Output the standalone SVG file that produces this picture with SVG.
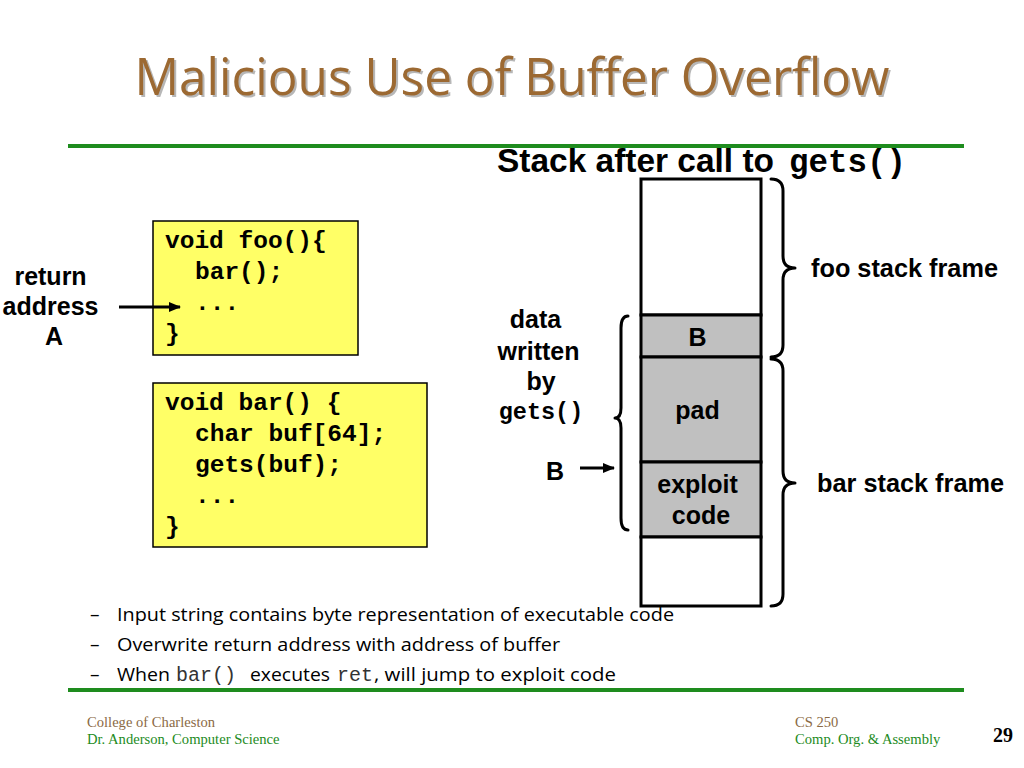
<svg xmlns="http://www.w3.org/2000/svg" width="1024" height="768" viewBox="0 0 1024 768">
<defs>
<style>
.bold{font-family:"Liberation Sans",Arial,sans-serif;font-weight:bold;fill:#000}
.mono{font-family:"Liberation Mono","Courier New",monospace;font-weight:bold;fill:#000}
.monor{font-family:"Liberation Mono","Courier New",monospace;fill:#333}
.code{fill:#FFFF66;stroke:#000;stroke-width:1.5}
.cell{stroke:#000;stroke-width:3}
.brace{fill:none;stroke:#000;stroke-width:3;stroke-linecap:round;stroke-linejoin:round}
.rule{stroke:#1E8C1E;stroke-width:4}
.body{font-family:"Open Sans","Noto Sans",sans-serif;font-size:19px;fill:#000}
.foot{font-family:"Liberation Serif","Times New Roman",serif;font-size:14.6px}
.arrow{stroke:#000;stroke-width:3;fill:none}
</style>
<marker id="ah" markerWidth="12" markerHeight="10" refX="11" refY="5" orient="auto" markerUnits="userSpaceOnUse">
<path d="M0,0 L12,5 L0,10 Z" fill="#000"/>
</marker>
</defs>
<rect width="1024" height="768" fill="#fff"/>

<g id="title">
<text x="514" y="97" text-anchor="middle" font-family="'Open Sans','Noto Sans',sans-serif" font-size="52" fill="#9a9a9a" opacity="0.7" textLength="755" lengthAdjust="spacingAndGlyphs">Malicious Use of Buffer Overflow</text>
<text x="512" y="95" text-anchor="middle" font-family="'Open Sans','Noto Sans',sans-serif" font-size="52" fill="#9C6932" textLength="755" lengthAdjust="spacingAndGlyphs">Malicious Use of Buffer Overflow</text>
</g>

<g id="rules">
<line class="rule" x1="68" y1="146" x2="964" y2="146"/>
<line class="rule" x1="68" y1="690" x2="964" y2="690"/>
</g>

<g id="stack-header">
<text x="497" y="172" class="bold" font-size="33" textLength="277" lengthAdjust="spacingAndGlyphs">Stack after call to</text>
<text x="789" y="172" class="mono" font-size="32.5">gets()</text>
</g>

<g id="foo-code">
<rect class="code" x="153" y="221" width="205" height="134"/>
<text class="mono" font-size="24.5">
<tspan x="165" y="248">void foo(){</tspan>
<tspan x="195" y="279">bar();</tspan>
<tspan x="195" y="310">...</tspan>
<tspan x="165" y="341">}</tspan>
</text>
</g>

<g id="bar-code">
<rect class="code" x="153" y="383" width="274" height="164"/>
<text class="mono" font-size="24.5">
<tspan x="165" y="410">void bar() {</tspan>
<tspan x="195" y="441">char buf[64];</tspan>
<tspan x="195" y="472">gets(buf);</tspan>
<tspan x="195" y="503">...</tspan>
<tspan x="165" y="534">}</tspan>
</text>
</g>

<g id="return-address-label">
<text class="bold" font-size="25" text-anchor="middle">
<tspan x="54" y="285">return</tspan>
<tspan x="54" y="315">address</tspan>
<tspan x="54" y="345">A</tspan>
</text>
</g>

<g id="stack">
<rect class="cell" x="641" y="179" width="120" height="136" fill="#fff"/>
<rect class="cell" x="641" y="315" width="120" height="42" fill="#C0C0C0"/>
<rect class="cell" x="641" y="357" width="120" height="105" fill="#C0C0C0"/>
<rect class="cell" x="641" y="462" width="120" height="75" fill="#C0C0C0"/>
<rect class="cell" x="641" y="537" width="120" height="69" fill="#fff"/>
<text class="bold" font-size="25" text-anchor="middle">
<tspan x="701" y="346">B</tspan>
<tspan x="701" y="419">pad</tspan>
<tspan x="701" y="493">exploit</tspan>
<tspan x="701" y="524">code</tspan>
</text>
</g>

<g id="foo-frame">
<path class="brace" d="M771,179 Q783,179 783,191 L783,256 Q783,268 795,268 Q783,268 783,280 L783,345 Q783,357 771,357"/>
<text x="811" y="277" class="bold" font-size="25.3">foo stack frame</text>
</g>

<g id="bar-frame">
<path class="brace" d="M771,359 Q783,359 783,371 L783,471 Q783,483 795,483 Q783,483 783,495 L783,594 Q783,606 771,606"/>
<text x="817" y="492" class="bold" font-size="25.3">bar stack frame</text>
</g>

<g id="gets-data">
<path class="brace" d="M628,316 Q621,316 621,328 L621,408 Q621,418 615,418 Q621,418 621,428 L621,518 Q621,530 628,530"/>
<text class="bold" font-size="25" text-anchor="middle">
<tspan x="539" y="328">data</tspan>
<tspan x="542" y="360">written</tspan>
<tspan x="541" y="390">by</tspan>
</text>
<text x="541" y="419" class="mono" font-size="23.5" text-anchor="middle">gets()</text>
</g>

<g id="b-label">
<text x="555" y="480" class="bold" font-size="25" text-anchor="middle">B</text>
</g>

<g id="connectors">
<line class="arrow" x1="119" y1="307" x2="180" y2="307" marker-end="url(#ah)"/>
<line class="arrow" x1="580" y1="468" x2="614" y2="468" marker-end="url(#ah)"/>
</g>

<g id="bullets">
<text class="body"><tspan x="90" y="621">–</tspan><tspan x="117" y="621" textLength="557" lengthAdjust="spacingAndGlyphs">Input string contains byte representation of executable code</tspan></text>
<text class="body"><tspan x="90" y="651">–</tspan><tspan x="117" y="651" textLength="443" lengthAdjust="spacingAndGlyphs">Overwrite return address with address of buffer</tspan></text>
<text class="body"><tspan x="90" y="681">–</tspan><tspan x="117" y="681" textLength="53" lengthAdjust="spacingAndGlyphs">When</tspan><tspan x="176" y="681" class="monor" font-size="20">bar()</tspan><tspan x="250" y="681" textLength="80" lengthAdjust="spacingAndGlyphs">executes</tspan><tspan x="337" y="681" class="monor" font-size="20">ret</tspan><tspan x="374" y="681" textLength="242" lengthAdjust="spacingAndGlyphs">, will jump to exploit code</tspan></text>
</g>

<g id="footer">
<text x="87" y="727" class="foot" fill="#8B6A45">College of Charleston</text>
<text x="87" y="744" class="foot" fill="#238B23">Dr. Anderson, Computer Science</text>
<text x="795" y="727" class="foot" fill="#8B6A45">CS 250</text>
<text x="795" y="744" class="foot" fill="#238B23">Comp. Org. &amp; Assembly</text>
<text x="993" y="742" font-family="'Liberation Serif','Times New Roman',serif" font-weight="bold" font-size="20" fill="#000">29</text>
</g>
</svg>
